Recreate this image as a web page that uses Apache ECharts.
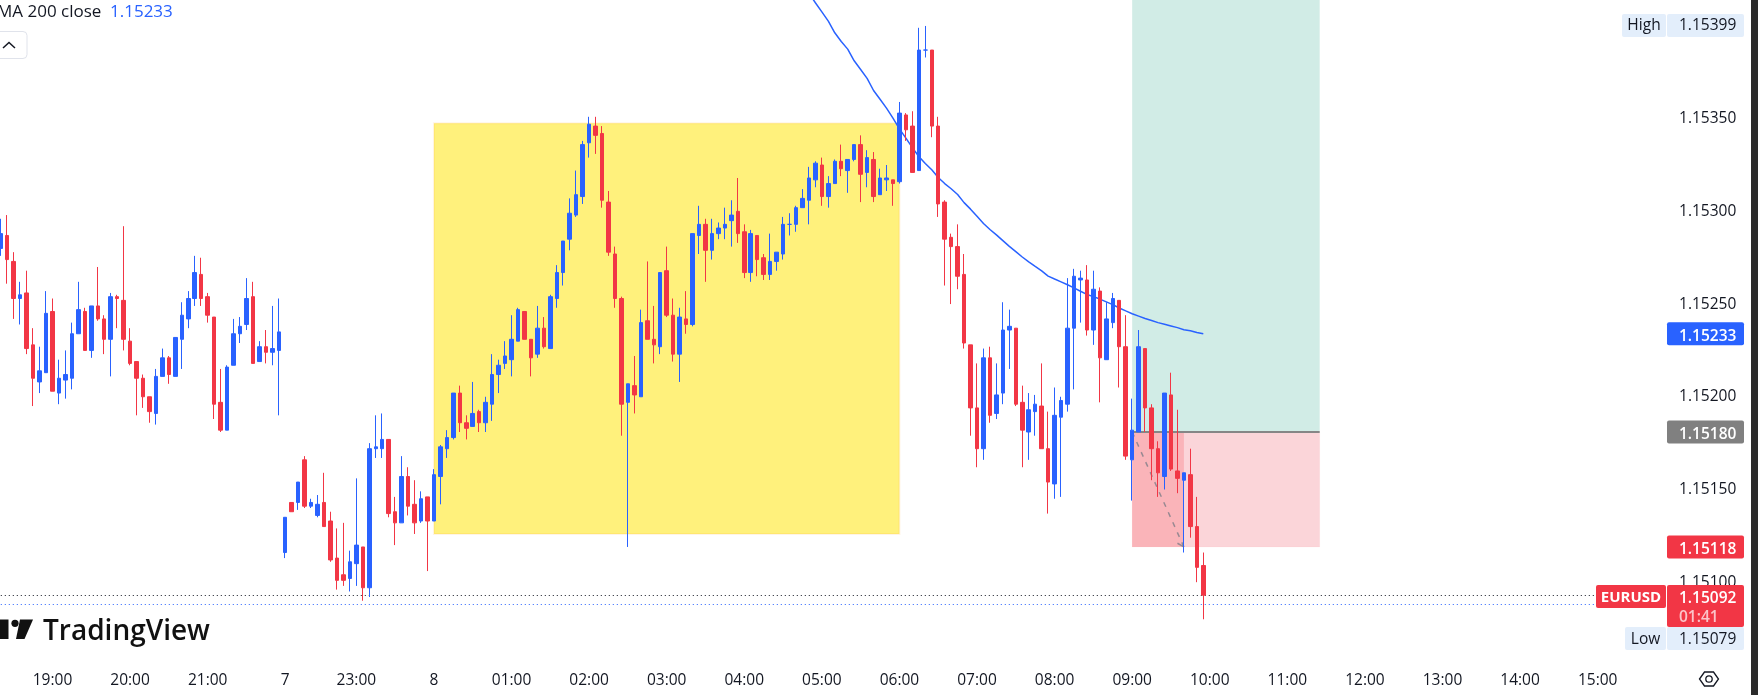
<!DOCTYPE html>
<html><head><meta charset="utf-8">
<style>html,body{margin:0;padding:0;background:#fff;overflow:hidden}#c{width:1758px;height:695px}</style>
<script src="https://cdn.jsdelivr.net/npm/echarts@6/dist/echarts.min.js"></script>
</head><body><div id="c"></div>
<script>
const opens=[1.15279,1.15286,1.15272,1.15252,1.15255,1.15227,1.15207,1.15212,1.15245,1.15201,1.15208,1.15209,1.15233,1.15245,1.15224,1.15248,1.15241,1.15230,1.15253,1.15251,1.15229,1.15218,1.15209,1.15199,1.15190,1.15210,1.15220,1.15210,1.15230,1.15241,1.15252,1.15265,1.15253,1.15242,1.15196,1.15181,1.15216,1.15233,1.15238,1.15253,1.15218,1.15226,1.15223,1.15224,1.15115,1.15142,1.15142,1.15165,1.15140,1.15135,1.15142,1.15132,1.15112,1.15103,1.15101,1.15109,1.15118,1.15096,1.15171,1.15171,1.15176,1.15137,1.15131,1.15156,1.15141,1.15132,1.15145,1.15132,1.15156,1.15171,1.15177,1.15201,1.15185,1.15183,1.15191,1.15185,1.15195,1.15211,1.15217,1.15219,1.15229,1.15245,1.15230,1.15222,1.15236,1.15225,1.15252,1.15266,1.15284,1.15297,1.15307,1.15336,1.15345,1.15341,1.15304,1.15276,1.15252,1.15196,1.15205,1.15199,1.15240,1.15230,1.15226,1.15267,1.15243,1.15222,1.15241,1.15238,1.15286,1.15292,1.15278,1.15287,1.15290,1.15294,1.15299,1.15288,1.15266,1.15286,1.15274,1.15265,1.15272,1.15276,1.15292,1.15292,1.15301,1.15305,1.15316,1.15324,1.15307,1.15314,1.15326,1.15321,1.15327,1.15335,1.15320,1.15327,1.15308,1.15316,1.15316,1.15315,1.15351,1.15345,1.15321,1.15386,1.15386,1.15345,1.15304,1.15285,1.15280,1.15265,1.15227,1.15193,1.15171,1.15220,1.15190,1.15201,1.15235,1.15236,1.15196,1.15180,1.15191,1.15194,1.15171,1.15152,1.15188,1.15195,1.15236,1.15262,1.15262,1.15235,1.15256,1.15219,1.15239,1.15251,1.15226,1.15165,1.15180,1.15225,1.15193,1.15171,1.15156,1.15200,1.15159,1.15154,1.15157,1.15129,1.15108];
const closes=[1.15287,1.15273,1.15252,1.15254,1.15225,1.15209,1.15213,1.15244,1.15202,1.15209,1.15211,1.15233,1.15246,1.15224,1.15248,1.15241,1.15230,1.15253,1.15252,1.15230,1.15217,1.15209,1.15199,1.15191,1.15210,1.15220,1.15211,1.15231,1.15243,1.15252,1.15266,1.15252,1.15243,1.15195,1.15181,1.15215,1.15233,1.15237,1.15252,1.15217,1.15226,1.15223,1.15225,1.15234,1.15134,1.15137,1.15153,1.15140,1.15142,1.15141,1.15129,1.15111,1.15100,1.15100,1.15110,1.15119,1.15096,1.15171,1.15172,1.15176,1.15136,1.15131,1.15156,1.15140,1.15131,1.15144,1.15132,1.15157,1.15172,1.15177,1.15201,1.15185,1.15182,1.15190,1.15185,1.15196,1.15211,1.15216,1.15221,1.15230,1.15246,1.15230,1.15220,1.15236,1.15226,1.15253,1.15266,1.15283,1.15298,1.15308,1.15335,1.15346,1.15340,1.15305,1.15277,1.15252,1.15195,1.15206,1.15200,1.15239,1.15230,1.15227,1.15266,1.15243,1.15222,1.15242,1.15238,1.15287,1.15292,1.15278,1.15287,1.15290,1.15292,1.15297,1.15287,1.15266,1.15287,1.15273,1.15265,1.15272,1.15277,1.15292,1.15292,1.15301,1.15306,1.15317,1.15325,1.15307,1.15314,1.15326,1.15322,1.15327,1.15335,1.15319,1.15328,1.15307,1.15317,1.15317,1.15314,1.15352,1.15343,1.15320,1.15386,1.15386,1.15345,1.15303,1.15284,1.15280,1.15264,1.15228,1.15193,1.15171,1.15220,1.15189,1.15200,1.15235,1.15237,1.15195,1.15181,1.15192,1.15195,1.15171,1.15153,1.15189,1.15197,1.15236,1.15264,1.15263,1.15235,1.15257,1.15220,1.15241,1.15252,1.15226,1.15167,1.15181,1.15226,1.15193,1.15171,1.15158,1.15201,1.15160,1.15155,1.15158,1.15129,1.15107,1.15092];
const lows=[1.15275,1.15260,1.15241,1.15238,1.15222,1.15194,1.15201,1.15212,1.15202,1.15195,1.15198,1.15203,1.15233,1.15224,1.15220,1.15240,1.15222,1.15210,1.15236,1.15224,1.15216,1.15189,1.15193,1.15185,1.15184,1.15210,1.15206,1.15210,1.15214,1.15236,1.15248,1.15248,1.15239,1.15187,1.15180,1.15181,1.15216,1.15228,1.15235,1.15217,1.15218,1.15217,1.15216,1.15189,1.15112,1.15137,1.15138,1.15139,1.15139,1.15134,1.15129,1.15110,1.15095,1.15097,1.15094,1.15097,1.15089,1.15091,1.15166,1.15166,1.15134,1.15119,1.15131,1.15135,1.15125,1.15131,1.15105,1.15132,1.15141,1.15166,1.15176,1.15180,1.15176,1.15183,1.15180,1.15180,1.15186,1.15201,1.15214,1.15210,1.15229,1.15230,1.15210,1.15220,1.15225,1.15225,1.15247,1.15259,1.15278,1.15296,1.15303,1.15328,1.15330,1.15301,1.15275,1.15247,1.15178,1.15118,1.15190,1.15199,1.15230,1.15217,1.15222,1.15242,1.15218,1.15207,1.15233,1.15237,1.15276,1.15261,1.15273,1.15284,1.15284,1.15280,1.15282,1.15263,1.15261,1.15264,1.15262,1.15262,1.15267,1.15273,1.15286,1.15288,1.15301,1.15292,1.15312,1.15302,1.15301,1.15314,1.15318,1.15309,1.15326,1.15304,1.15312,1.15304,1.15308,1.15310,1.15302,1.15314,1.15337,1.15320,1.15321,1.15382,1.15339,1.15296,1.15259,1.15249,1.15257,1.15225,1.15178,1.15161,1.15165,1.15185,1.15187,1.15195,1.15214,1.15194,1.15161,1.15165,1.15178,1.15171,1.15136,1.15144,1.15145,1.15191,1.15203,1.15239,1.15232,1.15227,1.15196,1.15219,1.15236,1.15204,1.15165,1.15143,1.15180,1.15180,1.15154,1.15145,1.15149,1.15159,1.15147,1.15115,1.15123,1.15099,1.15079];
const highs=[1.15295,1.15297,1.15277,1.15261,1.15267,1.15236,1.15226,1.15256,1.15252,1.15219,1.15224,1.15239,1.15261,1.15247,1.15248,1.15269,1.15243,1.15255,1.15254,1.15291,1.15236,1.15218,1.15211,1.15199,1.15214,1.15225,1.15221,1.15231,1.15250,1.15256,1.15275,1.15274,1.15255,1.15242,1.15214,1.15216,1.15241,1.15242,1.15263,1.15261,1.15229,1.15235,1.15248,1.15252,1.15134,1.15142,1.15153,1.15167,1.15144,1.15146,1.15158,1.15137,1.15128,1.15131,1.15116,1.15155,1.15118,1.15174,1.15189,1.15190,1.15176,1.15145,1.15167,1.15161,1.15154,1.15148,1.15145,1.15160,1.15173,1.15181,1.15201,1.15205,1.15189,1.15207,1.15192,1.15199,1.15222,1.15219,1.15229,1.15243,1.15247,1.15245,1.15230,1.15248,1.15242,1.15254,1.15270,1.15283,1.15306,1.15321,1.15337,1.15350,1.15350,1.15345,1.15310,1.15280,1.15253,1.15206,1.15221,1.15246,1.15272,1.15248,1.15266,1.15280,1.15252,1.15247,1.15256,1.15287,1.15302,1.15295,1.15295,1.15293,1.15301,1.15305,1.15317,1.15292,1.15289,1.15286,1.15276,1.15287,1.15277,1.15296,1.15298,1.15302,1.15311,1.15323,1.15326,1.15328,1.15318,1.15327,1.15335,1.15327,1.15335,1.15340,1.15332,1.15331,1.15322,1.15324,1.15316,1.15358,1.15352,1.15353,1.15398,1.15399,1.15386,1.15350,1.15305,1.15287,1.15292,1.15276,1.15227,1.15217,1.15225,1.15226,1.15217,1.15250,1.15246,1.15236,1.15205,1.15201,1.15200,1.15217,1.15191,1.15204,1.15199,1.15263,1.15268,1.15267,1.15270,1.15267,1.15258,1.15250,1.15255,1.15251,1.15243,1.15198,1.15235,1.15225,1.15195,1.15175,1.15201,1.15212,1.15192,1.15158,1.15171,1.15145,1.15115];
const maFirstIndex=125;
const ma200=[1.154167,1.154115,1.154066,1.154016,1.153953,1.153906,1.153865,1.153802,1.153755,1.153707,1.153642,1.153595,1.153547,1.153493,1.153435,1.153385,1.153334,1.153286,1.153248,1.153214,1.153173,1.153140,1.153112,1.153081,1.153037,1.153002,1.152964,1.152925,1.152892,1.152863,1.152832,1.152801,1.152773,1.152744,1.152718,1.152693,1.152669,1.152641,1.152625,1.152610,1.152594,1.152577,1.152559,1.152542,1.152530,1.152517,1.152502,1.152487,1.152469,1.152453,1.152438,1.152425,1.152412,1.152401,1.152390,1.152381,1.152372,1.152363,1.152352,1.152346,1.152337,1.152330];
const hourLabels={'19:00':'19:00','20:00':'20:00','21:00':'21:00','22:00':'7','23:00':'23:00','00:00':'8','01:00':'01:00','02:00':'02:00','03:00':'03:00','04:00':'04:00','05:00':'05:00','06:00':'06:00','07:00':'07:00','08:00':'08:00','09:00':'09:00','10:00':'10:00','11:00':'11:00','12:00':'12:00','13:00':'13:00','14:00':'14:00','15:00':'15:00'};
const priceTicks=[1.151,1.1515,1.152,1.1525,1.153,1.1535];
const slotCount=258, sessionBreak='22:55';
const rangeBox={from:67,to:139,top:1.153465,bottom:1.15125};
const trade={from:175,to:204,closedAt:183,entry:1.1518,stop:1.15118,top:1.15413};
const lastPrice=1.15092, askPrice=1.15087;
const BLUE='#2962ff',RED='#f23645',INK='#131722',TAG='#e3eefb',FONT='"Open Sans",sans-serif';

const categories=[];
for(let m=18*60+20;categories.length<slotCount;m+=5){
  const t=String(Math.floor(m/60)%24).padStart(2,'0')+':'+String(m%60).padStart(2,'0');
  if(t!==sessionBreak) categories.push(t);
}
const candles=opens.map((o,i)=>[o,closes[i],lows[i],highs[i]]);
const maData=categories.map((_,i)=>i>=maFirstIndex&&i-maFirstIndex<ma200.length?ma200[i-maFirstIndex]:null);
const pathData=categories.map((_,i)=>i===trade.from?trade.entry:i===trade.closedAt?trade.stop:null);
const hookData=categories.map((_,i)=>i===182?1.1512:i===trade.closedAt?1.15118:null);

const chart=echarts.init(document.getElementById('c'),null,{renderer:'canvas'});
chart.setOption({
  animation:false,backgroundColor:'#fff',
  grid:{left:-2.45,right:92.45,top:0,height:654.5,containLabel:false,outerBoundsMode:'none'},
  xAxis:{type:'category',data:categories,boundaryGap:true,
    axisLine:{show:false},axisTick:{show:false},splitLine:{show:false},
    axisLabel:{interval:(i,v)=>v in hourLabels,formatter:v=>hourLabels[v]||'',margin:18,color:INK,fontFamily:FONT,fontSize:15.5,hideOverlap:false}},
  yAxis:{type:'value',position:'right',scale:true,min:1.1506,max:1.15413,
    axisLine:{show:false},axisTick:{show:false},splitLine:{show:false},
    axisLabel:{customValues:priceTicks,formatter:v=>'{p|'+v.toFixed(5)+'}',margin:13.5,align:'left',color:INK,fontFamily:FONT,fontSize:15.5,
      rich:{p:{padding:[4,0,0,0],color:INK,fontFamily:FONT,fontSize:15.5}}}},
  series:[
    {name:'MA 200 close',type:'line',data:maData,z:3,symbol:'none',silent:true,connectNulls:false,lineStyle:{color:BLUE,width:1.5}},
    {name:'Trade path',type:'line',data:pathData,connectNulls:true,z:3,symbol:'none',silent:true,lineStyle:{color:'#787b86',width:1.5,type:[5,6],opacity:.75}},
    {name:'Trade path end',type:'line',data:hookData,connectNulls:true,z:3,symbol:'none',silent:true,lineStyle:{color:'#787b86',width:1.5,opacity:.75}},
    {name:'EURUSD',type:'candlestick',data:candles,z:5,barWidth:4,
      itemStyle:{color:BLUE,color0:RED,borderColor:BLUE,borderColor0:RED,borderWidth:1},
      markArea:{silent:true,z:1,data:[
        [{coord:[rangeBox.from,rangeBox.top],itemStyle:{color:'#fff17c',borderColor:'rgba(255,152,0,0.1)',borderWidth:2}},{coord:[rangeBox.to,rangeBox.bottom]}],
        [{coord:[trade.from,trade.top],itemStyle:{color:'#d1ece6'}},{coord:[trade.to,trade.entry]}],
        [{coord:[trade.from,trade.entry],itemStyle:{color:'#fbd5d9',borderColor:'rgba(242,54,69,0.03)',borderWidth:1}},{coord:[trade.to,trade.stop]}],
        [{coord:[trade.from,trade.entry],itemStyle:{color:'#fab4b9'}},{coord:[trade.closedAt,trade.stop]}]
      ]},
      markLine:{silent:true,z:4,symbol:'none',animation:false,label:{show:false},data:[
        [{coord:[0,lastPrice],lineStyle:{color:'#131722',type:[1,3],width:1}},{coord:[slotCount-1,lastPrice]}],
        [{coord:[0,askPrice],lineStyle:{color:BLUE,type:[1,3],width:1}},{coord:[slotCount-1,askPrice]}],
        [{coord:[trade.from,trade.entry],lineStyle:{color:'#868686',type:'solid',width:2}},{coord:[trade.to,trade.entry]}]
      ]}
    }
  ]
});

const AX=1667,AW=77;
const py=p=>chart.convertToPixel({yAxisIndex:0},p);
function tag(x,y,w,h,fill,r){return {type:'rect',z:100,shape:{x,y,width:w,height:h,r:r||[2,2,2,2]},style:{fill}};}
function txt(x,y,text,color,size,o){return {type:'text',z:101,x,y,style:Object.assign({text,fill:color,font:(o&&o.weight?o.weight+' ':'')+size+'px '+FONT,align:(o&&o.align)||'left',verticalAlign:'middle'})};}
function valueTag(price,text,fill,color,weight){const y=py(price);return [tag(AX,y-11.5,AW,23,fill),txt(1679,y+2.5,text,color,15.5,{weight})];}
const els=[
  ...valueTag(1.15233,'1.15233',BLUE,'#fff',600),
  ...valueTag(1.1518,'1.15180','#808080','#fff',600),
  ...valueTag(1.15118,'1.15118',RED,'#fff',600),
  tag(1622,14,44,23,TAG),txt(1644,25.5,'High',INK,15.5,{align:'center'}),
  tag(AX,14,AW,23,TAG),txt(1679,25.5,'1.15399',INK,15.5),
  tag(1596,585,70,23,RED),txt(1631,598,'EURUSD','#fff',15,{align:'center',weight:700}),
  tag(AX,585,AW,42,RED),txt(1679,598.5,'1.15092','#fff',15.5,{weight:600}),txt(1679,617.5,'01:41','#fbc4c9',15.5,{weight:600}),
  tag(1625,627,41,23,TAG),txt(1645.5,640,'Low',INK,15.5,{align:'center'}),
  tag(AX,627,AW,23,TAG),txt(1679,640,'1.15079',INK,15.5),
  txt(-3,12,'MA 200 close',INK,17),
  txt(110,12,'1.15233',BLUE,17),
  {type:'rect',z:100,shape:{x:-6,y:31.5,width:33,height:27,r:4},style:{fill:'#fff',stroke:'#e0e3eb',lineWidth:1}},
  {type:'polyline',z:101,shape:{points:[[3,48],[9,42.5],[15,48]]},style:{fill:null,stroke:INK,lineWidth:1.5}},
  {type:'rect',z:100,shape:{x:0,y:619.5,width:8.5,height:19.5},style:{fill:'#111'}},
  {type:'circle',z:100,shape:{cx:15,cy:623.3,r:3.6},style:{fill:'#111'}},
  {type:'polygon',z:100,shape:{points:[[20,619.5],[33,619.5],[24.5,639],[16,639]]},style:{fill:'#111'}},
  txt(43,632,'TradingView','#111',28,{weight:600}),
  {type:'polygon',z:100,shape:{points:[[1699.5,679],[1704.5,672],[1713.5,672],[1718.5,679],[1713.5,686],[1704.5,686]]},style:{fill:'#fff',stroke:INK,lineWidth:1.3}},
  {type:'circle',z:101,shape:{cx:1709,cy:679,r:3.2},style:{fill:'#fff',stroke:INK,lineWidth:1.3}},
  {type:'rect',z:102,shape:{x:1751,y:0,width:7,height:695},style:{fill:'#2b2b2b'}}
];
chart.setOption({graphic:{elements:els}});
</script></body></html>
